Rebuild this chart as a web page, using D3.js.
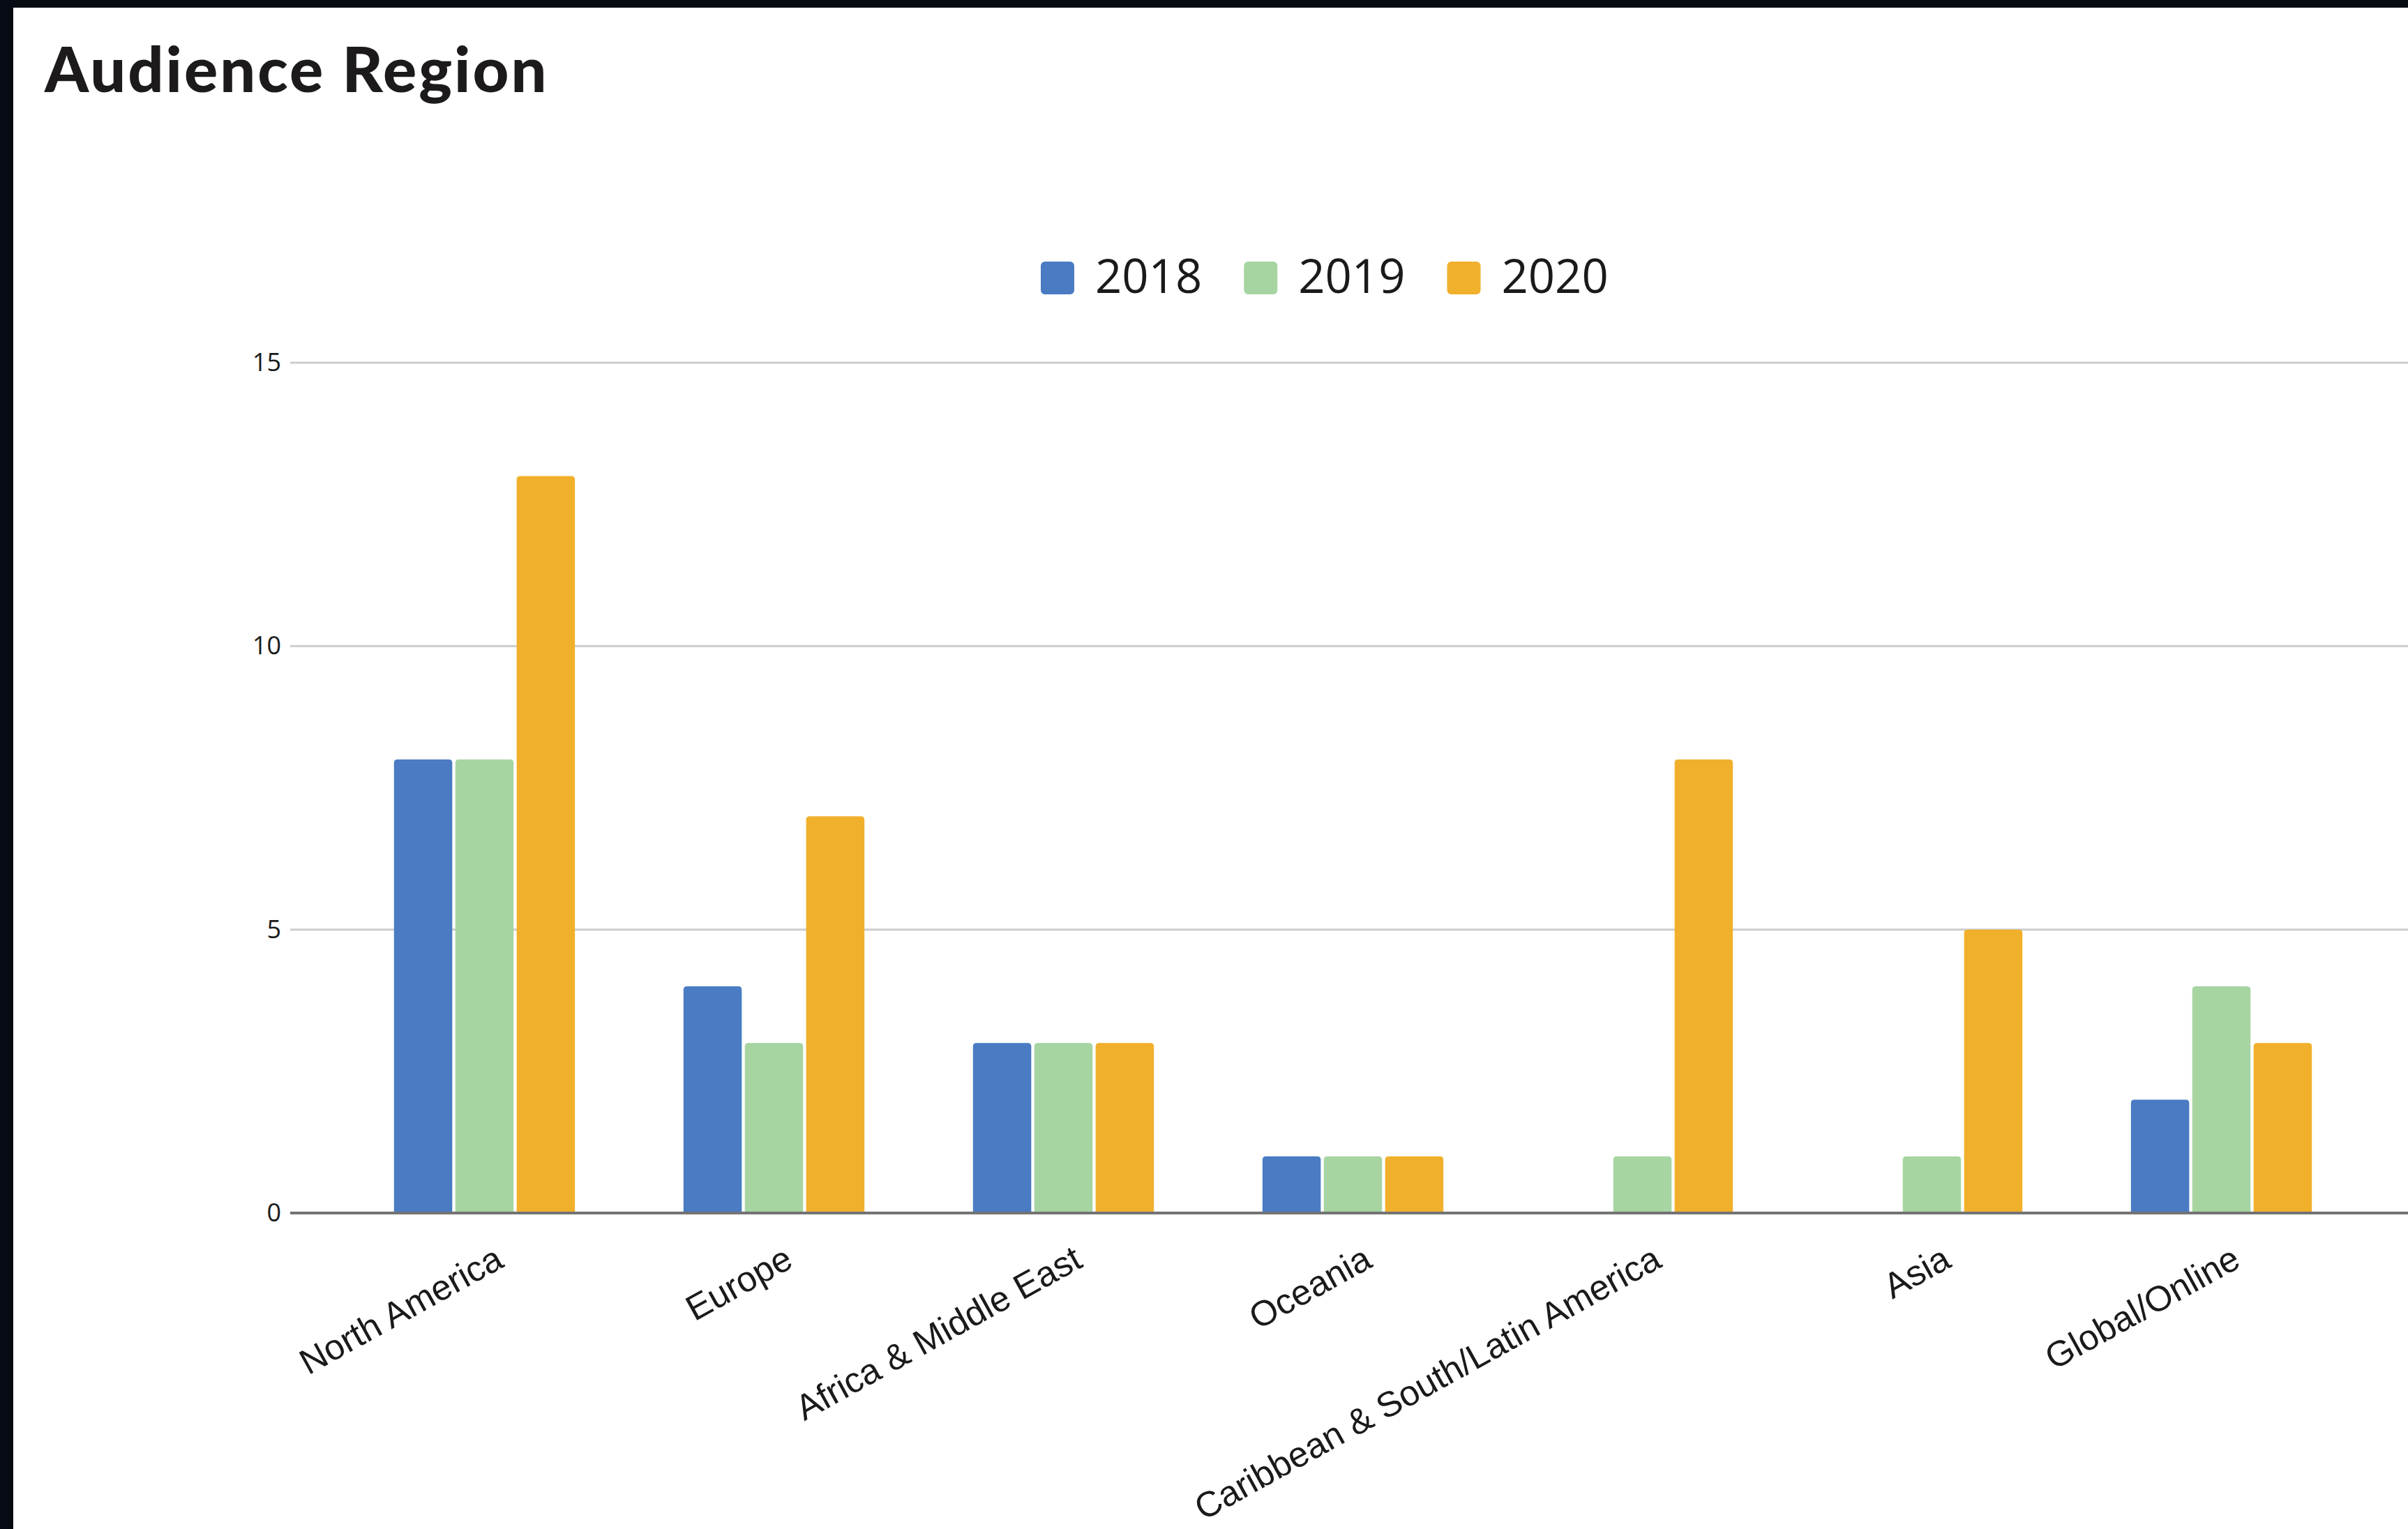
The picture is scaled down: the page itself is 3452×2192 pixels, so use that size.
<!DOCTYPE html>
<html>
<head>
<meta charset="utf-8">
<script src="https://cdn.jsdelivr.net/npm/d3@7/dist/d3.min.js"></script>
<style>
  html, body { margin: 0; padding: 0; background: #060a12; }
  svg { display: block; }
</style>
</head>
<body>
<svg id="chart" width="3452" height="2192"></svg>
<script>
const title = "Audience Region";
const categories = ["North America", "Europe", "Africa & Middle East", "Oceania",
  "Caribbean & South/Latin America", "Asia", "Global/Online"];
const seriesNames = ["2018", "2019", "2020"];
const values2018 = [8, 4, 3, 1, 0, 0, 2];
const values2019 = [8, 3, 3, 1, 1, 1, 4];
const values2020 = [13, 7, 3, 1, 8, 5, 3];
const yTicks = [0, 5, 10, 15];
const colors = ["#4a7bc3", "#a6d5a2", "#f1b02b"];

const seriesValues = [values2018, values2019, values2020];
const W = 3452, H = 2192;
const svg = d3.select("#chart");

// background: dark border + white panel
svg.append("rect").attr("x", 0).attr("y", 0).attr("width", W).attr("height", H).attr("fill", "#060a12");
svg.append("rect").attr("x", 19).attr("y", 11).attr("width", W - 19).attr("height", H - 11).attr("fill", "#ffffff");

// title
svg.append("text")
  .attr("x", 64).attr("y", 132)
  .attr("font-family", "Lato, 'Open Sans', sans-serif")
  .attr("font-weight", 900)
  .attr("font-size", 90)
  .attr("letter-spacing", 3)
  .attr("fill", "#1c1a1b")
  .text(title);

// scales
const x0 = d3.scaleBand().domain(categories).range([487, 3392]).paddingInner(0.375).paddingOuter(0.1875);
const x1 = d3.scaleBand().domain(seriesNames).range([0, x0.bandwidth()]).paddingInner(0.05);
const y = d3.scaleLinear().domain([0, 15]).range([1739, 520]);

// gridlines
const grid = svg.append("g");
grid.selectAll("line").data(yTicks.filter(d => d !== 0)).join("line")
  .attr("x1", 416).attr("x2", W)
  .attr("y1", d => y(d)).attr("y2", d => y(d))
  .attr("stroke", "#cccccc").attr("stroke-width", 3);

// y axis labels
const yAxis = d3.axisLeft(y).tickValues(yTicks).tickSize(0).tickPadding(0).tickFormat(d3.format("d"));
const yg = svg.append("g").attr("transform", "translate(403,0)").call(yAxis);
yg.select(".domain").remove();
yg.selectAll("text")
  .attr("font-family", "'Open Sans', sans-serif")
  .attr("font-size", 36)
  .attr("fill", "#1a1a1a");

// bars with slightly rounded tops
function barPath(xp, w, yTop, yBase, r) {
  const h = yBase - yTop;
  if (h <= 0) return "";
  r = Math.min(r, h, w / 2);
  return `M${xp},${yBase}V${yTop + r}Q${xp},${yTop} ${xp + r},${yTop}H${xp + w - r}Q${xp + w},${yTop} ${xp + w},${yTop + r}V${yBase}Z`;
}
const groups = svg.append("g").selectAll("g").data(categories).join("g")
  .attr("transform", d => `translate(${x0(d)},0)`);
groups.selectAll("path")
  .data((c, i) => seriesNames.map((s, j) => ({ s, j, v: seriesValues[j][i] })))
  .join("path")
  .attr("d", d => barPath(x1(d.s), x1.bandwidth(), y(d.v), y(0), 5))
  .attr("fill", d => colors[d.j]);

// baseline
svg.append("line")
  .attr("x1", 416).attr("x2", W)
  .attr("y1", y(0)).attr("y2", y(0))
  .attr("stroke", "#737373").attr("stroke-width", 4);

// x axis labels (rotated)
const xAxis = d3.axisBottom(x0).tickSize(0).tickPadding(0);
const xg = svg.append("g").attr("transform", `translate(0,${y(0)})`).call(xAxis);
xg.select(".domain").remove();
xg.selectAll("text")
  .attr("font-family", "'Liberation Sans', Arial, sans-serif")
  .attr("font-size", 51)
  .attr("fill", "#1a1a1a")
  .attr("text-anchor", "end")
  .attr("dy", null)
  .attr("y", null)
  .attr("transform", "translate(30,76) rotate(-29)");

// legend
const legend = svg.append("g");
let lx = 1492;
seriesNames.forEach((s, j) => {
  legend.append("rect")
    .attr("x", lx).attr("y", 375).attr("width", 48).attr("height", 47)
    .attr("rx", 6).attr("fill", colors[j]);
  const t = legend.append("text")
    .attr("x", lx + 78).attr("y", 420)
    .attr("font-family", "'Open Sans', sans-serif")
    .attr("font-size", 67)
    .attr("fill", "#1a1a1a")
    .text(s);
  lx = lx + 78 + t.node().getComputedTextLength() + 60;
});
</script>
</body>
</html>
